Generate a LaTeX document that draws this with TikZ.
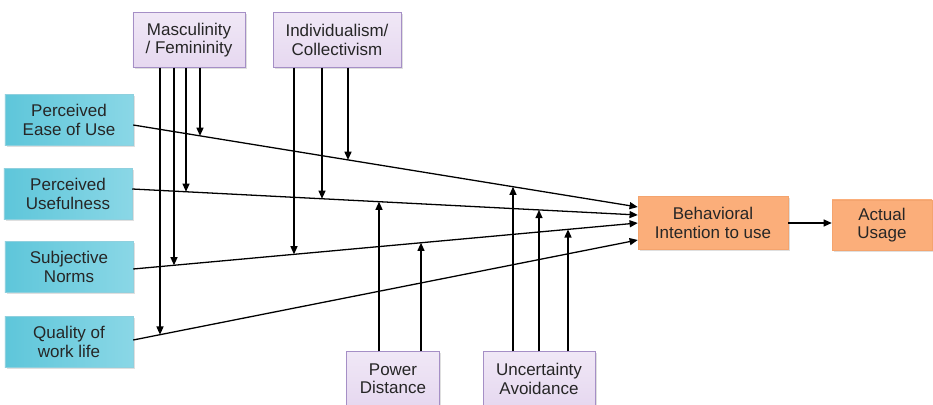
\documentclass[tikz,border=0pt]{standalone}
\usepackage{fontspec}
\setmainfont{Liberation Sans}
\usetikzlibrary{arrows.meta,calc,intersections,shadows}
\definecolor{cyanedge}{HTML}{8FD0DE}
\definecolor{cyandark}{HTML}{5EC6DA}
\definecolor{cyanmid}{HTML}{BFEAF2}
\definecolor{cyanright}{HTML}{8AD7E6}
\definecolor{lilacedge}{HTML}{A58FC6}
\definecolor{lilacfill}{HTML}{E6D8F0}
\definecolor{orangeedge}{HTML}{F4A46E}
\definecolor{orangedark}{HTML}{FBAE7A}
\definecolor{orangelight}{HTML}{FDD6BC}
\tikzset{
  box/.style={rectangle, align=center, inner sep=1pt, text=black!85,
    font=\fontsize{14.5}{15.5}\selectfont,
    drop shadow={opacity=0.25, shadow xshift=1.5pt, shadow yshift=-1.5pt}},
  factor/.style={box, draw=cyanedge, left color=cyandark, middle color=cyanmid, right color=cyanright,
    minimum width=3.84cm, minimum height=1.53cm},
  culture/.style={box, draw=lilacedge, top color=lilacfill!60!white, bottom color=lilacfill,
    minimum height=1.65cm},
  outcome/.style={box, draw=orangeedge, left color=orangedark, middle color=orangelight, right color=orangedark},
  link/.style={->, line width=1.1pt},
}
\begin{document}
\begin{tikzpicture}[x=0.03cm, y=-0.03cm, >={Triangle[length=7pt,width=6pt]}]
\useasboundingbox (0,0) rectangle (933,405);
\node[factor] (peu) at (69,120) {Perceived\\Ease of Use};
\node[factor] (pu) at (68,194) {Perceived\\Usefulness};
\node[factor] (sn) at (69,267) {Subjective\\Norms};
\node[factor] (qwl) at (69,342) {Quality of\\work life};
\node[culture, minimum width=3.36cm] (mf) at (189,40) {Masculinity\\/ Femininity};
\node[culture, minimum width=3.84cm] (ic) at (337,40) {Individualism/\\Collectivism};
\node[culture, minimum width=2.79cm] (pd) at (393,379) {Power\\Distance};
\node[culture, minimum width=3.36cm] (ua) at (539,379) {Uncertainty\\Avoidance};
\node[outcome, minimum width=4.5cm, minimum height=1.59cm] (bi) at (713,223) {Behavioral\\Intention to use};
\node[outcome, minimum width=3cm, minimum height=1.5cm] (au) at (882,225) {Actual\\Usage};

\draw[link, name path=l1] ($(peu.east)+(0,5)$) -- ($(bi.west)+(0,-16)$);
\draw[link, name path=l2] ($(pu.east)+(0,-5)$) -- ($(bi.west)+(0,-8)$);
\draw[link, name path=l3] ($(sn.east)+(0,2)$) -- (bi.west);
\draw[link, name path=l4] ($(qwl.east)+(0,-2)$) -- ($(bi.west)+(0,17)$);
\draw[link] (bi.east) -- (au.west |- bi.east);

\foreach \src/\dx/\l/\dir in {mf/-29/l4/1, mf/-15/l3/1, mf/-3/l2/1, mf/11/l1/1,
    ic/-43/l3/1, ic/-15/l2/1, ic/11/l1/1,
    pd/-14/l2/-1, pd/28/l3/-1,
    ua/-26/l1/-1, ua/0/l2/-1, ua/29/l3/-1} {
  \ifnum\dir=1 \def\anch{south}\else \def\anch{north}\fi
  \path[name path=v] ($(\src.\anch)+(\dx,0)$) -- ++(0,\dir*400);
  \draw[link, name intersections={of=v and \l}] ($(\src.\anch)+(\dx,0)$) -- (intersection-1);
}
\end{tikzpicture}
\end{document}
